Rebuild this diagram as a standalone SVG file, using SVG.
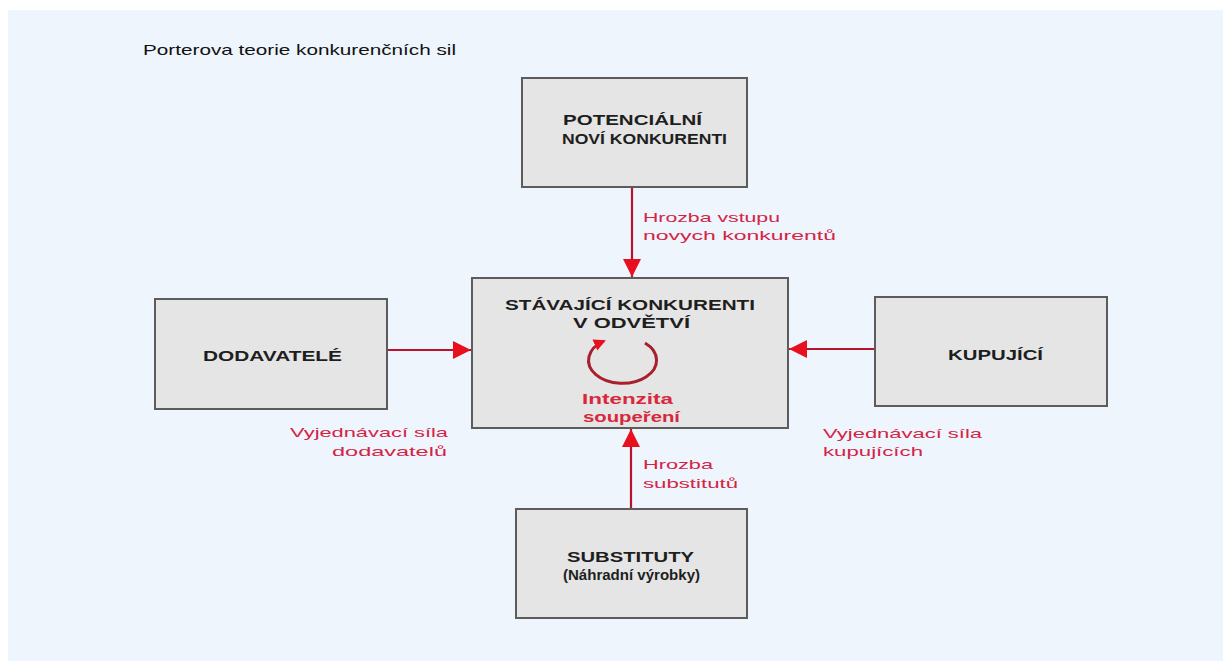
<svg xmlns="http://www.w3.org/2000/svg" width="1223" height="661" viewBox="0 0 1223 661">
<style>
.box{fill:#e5e5e5;stroke:#5c5c5c;stroke-width:2}
.bt{font-family:"Liberation Sans",Arial,sans-serif;font-weight:bold;font-size:15px;fill:#1e1e1e}
.lbl{font-family:"Liberation Sans",Arial,sans-serif;font-size:13px;fill:#d42445}
.rb{font-family:"Liberation Sans",Arial,sans-serif;font-weight:bold;font-size:14px;fill:#d8283c}
.title{font-family:"Liberation Sans",Arial,sans-serif;font-size:15px;fill:#111}
.conn{stroke:#b8122c;stroke-width:2.2;fill:none}
</style>
<defs>
<marker id="ah" markerUnits="userSpaceOnUse" markerWidth="20" markerHeight="18" refX="18" refY="9" orient="auto">
<path d="M0,0 L18,9 L0,18 Z" fill="#e8101e"/>
</marker>
<marker id="ah2" markerUnits="userSpaceOnUse" markerWidth="14" markerHeight="14" refX="10" refY="6" orient="auto">
<path d="M0,0 L12,6 L0,12 Z" fill="#e8101e"/>
</marker>
</defs>
<rect x="0" y="0" width="1223" height="661" fill="#ffffff"/>
<rect x="8" y="10" width="1215" height="651" fill="#eef5fc"/>
<text class="title" x="143" y="55" textLength="313" lengthAdjust="spacingAndGlyphs">Porterova teorie konkurenčních sil</text>

<g id="connectors">
<line class="conn" x1="632" y1="187" x2="632" y2="277" marker-end="url(#ah)"/>
<line class="conn" x1="387" y1="350" x2="471" y2="350" marker-end="url(#ah)"/>
<line class="conn" x1="875" y1="349" x2="789" y2="349" marker-end="url(#ah)"/>
<line class="conn" x1="631" y1="509" x2="631" y2="429" marker-end="url(#ah)"/>
</g>

<g id="node-potencialni">
<rect class="box" x="522" y="78" width="225" height="109"/>
<text class="bt" x="563" y="125" textLength="139" lengthAdjust="spacingAndGlyphs">POTENCIÁLNÍ</text>
<text class="bt" x="562" y="144" textLength="165" lengthAdjust="spacingAndGlyphs">NOVÍ KONKURENTI</text>
</g>

<g id="node-stavajici">
<rect class="box" x="472" y="278" width="316" height="150"/>
<text class="bt" x="505" y="310" textLength="250" lengthAdjust="spacingAndGlyphs">STÁVAJÍCÍ KONKURENTI</text>
<text class="bt" x="573" y="328" textLength="117" lengthAdjust="spacingAndGlyphs">V ODVĚTVÍ</text>
<path d="M645,343 A34,23 0 1 1 604,341" fill="none" stroke="#a8202e" stroke-width="3" marker-end="url(#ah2)"/>
<text class="rb" x="582" y="404" textLength="91" lengthAdjust="spacingAndGlyphs">Intenzita</text>
<text class="rb" x="583" y="422" textLength="97" lengthAdjust="spacingAndGlyphs">soupeření</text>
</g>

<g id="node-dodavatele">
<rect class="box" x="155" y="299" width="232" height="110"/>
<text class="bt" x="203" y="361" textLength="139" lengthAdjust="spacingAndGlyphs">DODAVATELÉ</text>
</g>

<g id="node-kupujici">
<rect class="box" x="875" y="297" width="232" height="109"/>
<text class="bt" x="948" y="360" textLength="95" lengthAdjust="spacingAndGlyphs">KUPUJÍCÍ</text>
</g>

<g id="node-substituty">
<rect class="box" x="516" y="509" width="231" height="109"/>
<text class="bt" x="567" y="562" textLength="127" lengthAdjust="spacingAndGlyphs">SUBSTITUTY</text>
<text class="bt" x="563" y="580" textLength="137" lengthAdjust="spacingAndGlyphs">(Náhradní výrobky)</text>
</g>

<g id="labels">
<text class="lbl" x="643" y="222" textLength="137" lengthAdjust="spacingAndGlyphs">Hrozba vstupu</text>
<text class="lbl" x="643" y="240" textLength="193" lengthAdjust="spacingAndGlyphs">novych konkurentů</text>
<text class="lbl" x="290" y="437" textLength="158" lengthAdjust="spacingAndGlyphs">Vyjednávací síla</text>
<text class="lbl" x="332" y="456" textLength="115" lengthAdjust="spacingAndGlyphs">dodavatelů</text>
<text class="lbl" x="823" y="438" textLength="159" lengthAdjust="spacingAndGlyphs">Vyjednávací síla</text>
<text class="lbl" x="823" y="456" textLength="100" lengthAdjust="spacingAndGlyphs">kupujících</text>
<text class="lbl" x="643" y="469" textLength="70" lengthAdjust="spacingAndGlyphs">Hrozba</text>
<text class="lbl" x="643" y="488" textLength="95" lengthAdjust="spacingAndGlyphs">substitutů</text>
</g>
</svg>
